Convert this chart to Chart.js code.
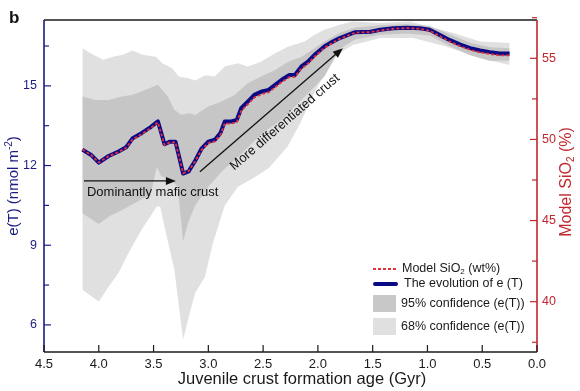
<!DOCTYPE html>
<html>
<head>
<meta charset="utf-8">
<script src="https://cdn.jsdelivr.net/npm/chart.js@4.4.0/dist/chart.umd.min.js"></script>
<style>
html, body { margin: 0; padding: 0; background: #fff; }
#zone { width: 580px; height: 391px; }
</style>
</head>
<body>
<div id="zone"><canvas id="graph" width="580" height="391"></canvas></div>
<script>
//Données (âge en Gyr)
var ages = [4.15, 4.07, 4.00, 3.91, 3.82, 3.75, 3.69, 3.61, 3.53, 3.46,
            3.40, 3.35, 3.30, 3.23, 3.18, 3.12, 3.06, 3.00, 2.94, 2.89,
            2.85, 2.79, 2.74, 2.70, 2.64, 2.58, 2.51, 2.45, 2.39, 2.33,
            2.26, 2.21, 2.15, 2.09, 2.03, 1.94, 1.89, 1.80, 1.66, 1.52,
            1.43, 1.31, 1.19, 1.07, 0.98, 0.89, 0.80, 0.70, 0.61, 0.52,
            0.43, 0.34, 0.25];
var eT = [12.60, 12.40, 12.11, 12.36, 12.53, 12.69, 13.03, 13.22, 13.44, 13.66,
          12.80, 12.90, 12.90, 11.70, 11.78, 12.18, 12.65, 12.90, 12.97, 13.22,
          13.66, 13.66, 13.72, 14.16, 14.41, 14.66, 14.79, 14.85, 15.04, 15.23,
          15.41, 15.41, 15.73, 15.91, 16.17, 16.48, 16.61, 16.80, 17.02, 17.04,
          17.11, 17.17, 17.19, 17.17, 17.11, 16.92, 16.73, 16.55, 16.42, 16.33,
          16.27, 16.22, 16.22];
var sio2 = [49.38, 49.04, 48.58, 48.97, 49.22, 49.48, 50.02, 50.32, 50.68, 51.05,
            49.66, 49.82, 49.82, 47.92, 48.05, 48.66, 49.38, 49.78, 49.88, 50.28,
            50.98, 50.98, 51.06, 51.76, 52.16, 52.58, 52.80, 52.90, 53.22, 53.54,
            53.84, 53.86, 54.36, 54.68, 55.10, 55.64, 55.86, 56.20, 56.58, 56.62,
            56.72, 56.82, 56.86, 56.82, 56.70, 56.38, 56.04, 55.74, 55.52, 55.36,
            55.26, 55.18, 55.18];

//Bande 68% (gris clair) : bord haut et bord bas
var ages68Haut = [4.15, 4.05, 3.96, 3.87, 3.78, 3.69, 3.60, 3.48, 3.42, 3.33, 3.27, 3.19, 3.12, 3.03, 2.94, 2.85,
                  2.73, 2.64, 2.52, 2.39, 2.27, 2.12, 2.03, 1.94, 1.80, 1.68, 1.43, 1.16, 0.98, 0.77, 0.52, 0.25];
var val68Haut = [16.42, 16.17, 15.98, 16.10, 16.17, 16.33, 16.17, 16.10, 15.85, 15.66, 15.35, 15.30, 15.20, 15.40, 15.35, 15.73,
                 15.85, 15.73, 15.91, 16.23, 16.48, 16.67, 16.92, 17.11, 17.30, 17.42, 17.37, 17.42, 17.23, 17.00, 16.67, 16.61];
var ages68Bas = [4.15, 4.00, 3.91, 3.82, 3.73, 3.61, 3.47, 3.44, 3.40, 3.31, 3.23, 3.17, 3.12, 3.03, 2.96,
                 2.85, 2.73, 2.60, 2.45, 2.28, 2.16, 2.05, 1.96, 1.82, 1.68, 1.43, 1.13, 0.83, 0.52, 0.25];
var val68Bas = [7.32, 6.88, 7.44, 7.95, 8.70, 9.58, 10.46, 10.46, 9.70, 8.07, 5.45, 6.45, 7.20, 7.82, 9.06,
                10.50, 11.20, 11.50, 11.90, 12.70, 13.60, 14.60, 15.30, 16.20, 16.54, 16.80, 16.80, 16.48, 16.04, 15.79];

//Bande 95% (gris foncé)
var ages95Haut = [4.15, 4.03, 3.91, 3.79, 3.70, 3.61, 3.46, 3.37, 3.31, 3.25, 3.17, 3.12, 3.00, 2.88, 2.76, 2.64,
                  2.52, 2.39, 2.27, 2.15, 2.03, 1.94, 1.80, 1.66, 1.43, 1.19, 0.98, 0.80, 0.61, 0.43, 0.25];
var val95Haut = [14.60, 14.47, 14.47, 14.60, 14.66, 14.79, 15.04, 14.60, 14.10, 13.91, 13.97, 13.90, 14.22, 14.41, 14.66, 15.10,
                 15.35, 15.60, 15.91, 16.10, 16.42, 16.67, 17.00, 17.20, 17.28, 17.33, 17.25, 16.95, 16.62, 16.45, 16.42];
var ages95Bas = [4.15, 4.00, 3.90, 3.80, 3.60, 3.53, 3.47, 3.43, 3.35, 3.28, 3.23, 3.18, 3.12, 3.00, 2.87,
                 2.69, 2.51, 2.33, 2.15, 1.94, 1.80, 1.66, 1.43, 1.19, 0.98, 0.80, 0.61, 0.43, 0.25];
var val95Bas = [10.20, 9.80, 10.10, 10.30, 10.75, 10.85, 11.95, 11.60, 11.50, 11.20, 9.15, 9.90, 10.50, 11.20, 11.80,
                12.47, 13.22, 13.72, 14.47, 15.35, 16.40, 16.75, 16.92, 16.97, 16.90, 16.50, 16.15, 15.95, 15.95];

//Graduations
var xTicks = [4.5, 4.0, 3.5, 3.0, 2.5, 2.0, 1.5, 1.0, 0.5, 0.0];
var yTicks = [6, 9, 12, 15];
var yMinor = [7.5, 10.5, 13.5, 16.5];
var y2Ticks = [40, 45, 50, 55];
var y2Minor = [37.5, 42.5, 47.5, 52.5, 57.5];

var bleu = '#1c1c82';
var rouge = '#c1272d';
var police = "'Liberation Sans', Arial, sans-serif";

function points(xs, ys) {
    return xs.map(function(v, i) { return {x: v, y: ys[i]}; });
}

function ligne(ctx, x1, y1, x2, y2, couleur) {
    ctx.strokeStyle = couleur;
    ctx.beginPath();
    ctx.moveTo(x1, y1);
    ctx.lineTo(x2, y2);
    ctx.stroke();
}

//Flèche avec pointe pleine
function fleche(ctx, x1, y1, x2, y2) {
    var ang = Math.atan2(y2 - y1, x2 - x1);
    var c = Math.cos(ang), s = Math.sin(ang);
    ctx.strokeStyle = '#111';
    ctx.fillStyle = '#111';
    ctx.lineWidth = 1.3;
    ctx.beginPath();
    ctx.moveTo(x1, y1);
    ctx.lineTo(x2 - 6 * c, y2 - 6 * s);
    ctx.stroke();
    ctx.beginPath();
    ctx.moveTo(x2, y2);
    ctx.lineTo(x2 - 10 * c + 4 * s, y2 - 10 * s - 4 * c);
    ctx.lineTo(x2 - 10 * c - 4 * s, y2 - 10 * s + 4 * c);
    ctx.closePath();
    ctx.fill();
}

//Texte avec indices / exposants : morceaux [texte, type]
function largeurMorceaux(ctx, morceaux, taille) {
    var w = 0;
    morceaux.forEach(function(m) {
        ctx.font = (m[1] == 'n' ? taille : Math.round(taille * 0.65)) + 'px ' + police;
        w += ctx.measureText(m[0]).width;
    });
    return w;
}
function texteMorceaux(ctx, morceaux, x, y, taille) {
    ctx.textAlign = 'left';
    ctx.textBaseline = 'middle';
    morceaux.forEach(function(m) {
        var dy = 0;
        if (m[1] == 'n') {
            ctx.font = taille + 'px ' + police;
        } else {
            ctx.font = Math.round(taille * 0.65) + 'px ' + police;
            dy = m[1] == 'sub' ? taille * 0.25 : -taille * 0.35;
        }
        ctx.fillText(m[0], x, y + dy);
        x += ctx.measureText(m[0]).width;
    });
}
function texteCentre(ctx, morceaux, cx, cy, taille, rotation) {
    ctx.save();
    ctx.translate(cx, cy);
    ctx.rotate(rotation);
    var w = largeurMorceaux(ctx, morceaux, taille);
    texteMorceaux(ctx, morceaux, -w / 2, 0, taille);
    ctx.restore();
}

//Plugin qui dessine le cadre, les graduations vers l'intérieur, les titres, les annotations et la légende
var decor = {
    id: 'decor',
    afterDraw: function(chart) {
        var ctx = chart.ctx;
        var a = chart.chartArea;
        var sx = chart.scales.x, sy = chart.scales.y, sy2 = chart.scales.y2;
        ctx.save();
        ctx.lineWidth = 1.6;
        ligne(ctx, a.left, a.top, a.right, a.top, '#1a1a1a');
        ligne(ctx, a.left, a.bottom, a.right, a.bottom, '#1a1a1a');
        ligne(ctx, a.left, a.top, a.left, a.bottom, bleu);
        ligne(ctx, a.right, a.top, a.right, a.bottom, rouge);

        ctx.lineWidth = 1.2;
        xTicks.forEach(function(v) {
            var p = sx.getPixelForValue(v);
            ligne(ctx, p, a.bottom, p, a.bottom - 7, '#1a1a1a');
        });
        yTicks.forEach(function(v) {
            var p = sy.getPixelForValue(v);
            ligne(ctx, a.left, p, a.left + 7, p, bleu);
        });
        yMinor.forEach(function(v) {
            var p = sy.getPixelForValue(v);
            ligne(ctx, a.left, p, a.left + 5, p, bleu);
        });
        y2Ticks.forEach(function(v) {
            var p = sy2.getPixelForValue(v);
            ligne(ctx, a.right, p, a.right - 7, p, rouge);
        });
        y2Minor.forEach(function(v) {
            var p = sy2.getPixelForValue(v);
            ligne(ctx, a.right, p, a.right - 5, p, rouge);
        });

        //Titres des axes
        ctx.fillStyle = '#1a1a1a';
        texteCentre(ctx, [['Juvenile crust formation age (Gyr)', 'n']], 302, 379, 16.5, 0);
        ctx.fillStyle = bleu;
        texteCentre(ctx, [['e(T) (nmol m', 'n'], ['-2', 'sup'], [')', 'n']], 14, 186, 15, -Math.PI / 2);
        ctx.fillStyle = rouge;
        texteCentre(ctx, [['Model SiO', 'n'], ['2', 'sub'], [' (%)', 'n']], 567, 182, 16, -Math.PI / 2);

        //Lettre du panneau
        ctx.fillStyle = '#111';
        ctx.font = 'bold 17px ' + police;
        ctx.textAlign = 'left';
        ctx.textBaseline = 'middle';
        ctx.fillText('b', 9, 18);

        //Annotations placées en coordonnées de données
        var x1 = sx.getPixelForValue(4.135), x2 = sx.getPixelForValue(3.296), yh = sy.getPixelForValue(11.42);
        fleche(ctx, x1, yh, x2, yh);
        ctx.fillStyle = '#111';
        ctx.font = '13px ' + police;
        ctx.fillText('Dominantly mafic crust', sx.getPixelForValue(4.108), sy.getPixelForValue(10.97));

        var dx1 = sx.getPixelForValue(3.077), dy1 = sy.getPixelForValue(11.77);
        var dx2 = sx.getPixelForValue(1.772), dy2 = sy.getPixelForValue(16.42);
        fleche(ctx, dx1, dy1, dx2, dy2);
        var ang = Math.atan2(dy2 - dy1, dx2 - dx1);
        ctx.fillStyle = '#111';
        texteCentre(ctx, [['More differentiated crust', 'n']], sx.getPixelForValue(2.301), sy.getPixelForValue(13.63), 13, ang);

        //Légende
        ctx.lineWidth = 2;
        ctx.setLineDash([3, 2]);
        ligne(ctx, 373, 269, 396, 269, '#e3303b');
        ctx.setLineDash([]);
        ctx.lineWidth = 4;
        ctx.lineCap = 'round';
        ligne(ctx, 375, 284, 396, 284, '#0a0a86');
        ctx.lineCap = 'butt';
        ctx.fillStyle = '#c8c8c8';
        ctx.fillRect(373, 295, 23, 17);
        ctx.fillStyle = '#e0e0e0';
        ctx.fillRect(373, 318, 23, 17);
        ctx.fillStyle = '#1a1a1a';
        texteMorceaux(ctx, [['Model SiO', 'n'], ['2', 'sub'], [' (wt%)', 'n']], 402, 269, 12.5);
        texteMorceaux(ctx, [['The evolution of e (T)', 'n']], 404, 284, 12.5);
        texteMorceaux(ctx, [['95% confidence (e(T))', 'n']], 401, 304, 12.5);
        texteMorceaux(ctx, [['68% confidence (e(T))', 'n']], 401, 327, 12.5);
        ctx.restore();
    }
};

Chart.defaults.font.family = police;
var ctx = document.getElementById('graph').getContext('2d');
window.myChart = new Chart(ctx, {
    type: 'line',
    data: {
        datasets: [
            {data: points(ages68Haut, val68Haut), borderWidth: 0, borderColor: 'rgba(0,0,0,0)', pointRadius: 0, fill: false, order: 5},
            {data: points(ages68Bas, val68Bas), borderWidth: 0, borderColor: 'rgba(0,0,0,0)', pointRadius: 0, fill: '-1', backgroundColor: '#e0e0e0', order: 5},
            {data: points(ages95Haut, val95Haut), borderWidth: 0, borderColor: 'rgba(0,0,0,0)', pointRadius: 0, fill: false, order: 3},
            {data: points(ages95Bas, val95Bas), borderWidth: 0, borderColor: 'rgba(0,0,0,0)', pointRadius: 0, fill: '-1', backgroundColor: '#c6c6c6', order: 3},
            {label: 'The evolution of e (T)', data: points(ages, eT), borderColor: '#0a0a86', borderWidth: 4, pointRadius: 0, fill: false, order: 1, borderJoinStyle: 'round'},
            {label: 'Model SiO2 (wt%)', data: points(ages, sio2), yAxisID: 'y2', borderColor: '#e3303b', borderWidth: 1.8, borderDash: [3, 2], pointRadius: 0, fill: false, order: 0}
        ]
    },
    options: {
        responsive: false,
        animation: false,
        layout: {padding: {top: 20, left: 0, right: 0, bottom: 0}},
        plugins: {legend: {display: false}, tooltip: {enabled: false}},
        scales: {
            x: {
                type: 'linear', reverse: true, min: 0, max: 4.5, position: 'bottom',
                grid: {display: false, drawTicks: false},
                border: {display: false},
                ticks: {stepSize: 0.5, color: '#1a1a1a', font: {size: 13}, padding: 5, maxRotation: 0,
                        callback: function(v) { return v.toFixed(1); }},
                afterFit: function(s) { s.height = 39; }
            },
            y: {
                type: 'linear', min: 4.98, max: 17.48, position: 'left',
                grid: {display: false, drawTicks: false},
                border: {display: false},
                ticks: {color: bleu, font: {size: 12.5}, padding: 7},
                afterBuildTicks: function(s) { s.ticks = yTicks.map(function(v) { return {value: v}; }); },
                afterFit: function(s) { s.width = 44; }
            },
            y2: {
                type: 'linear', min: 36.9, max: 57.36, position: 'right',
                grid: {display: false, drawTicks: false},
                border: {display: false},
                ticks: {color: rouge, font: {size: 12.5}, padding: 5},
                afterBuildTicks: function(s) { s.ticks = y2Ticks.map(function(v) { return {value: v}; }); },
                afterFit: function(s) { s.width = 43; }
            }
        }
    },
    plugins: [decor]
});
</script>
</body>
</html>
